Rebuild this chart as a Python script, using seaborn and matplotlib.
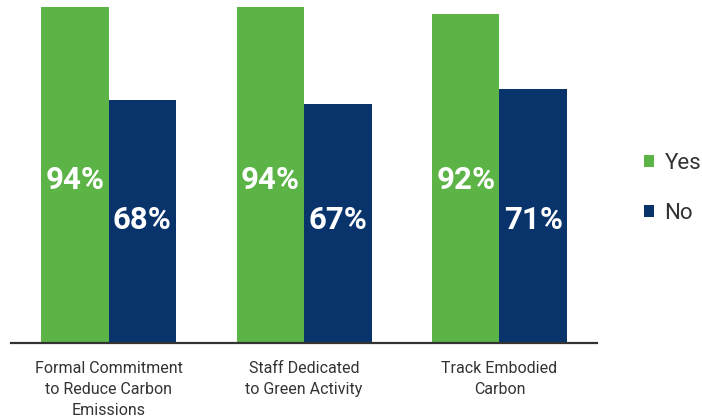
import seaborn as sns
import pandas as pd
import matplotlib.pyplot as plt
import matplotlib

matplotlib.use("agg")

categories = [
    "Formal Commitment\nto Reduce Carbon\nEmissions",
    "Staff Dedicated\nto Green Activity",
    "Track Embodied\nCarbon",
]
yes_values = [94, 94, 92]
no_values = [68, 67, 71]
series = ["Yes", "No"]
colors = {"Yes": "#5cb447", "No": "#08336b"}

df = pd.DataFrame(
    {
        "category": categories * 2,
        "answer": ["Yes"] * 3 + ["No"] * 3,
        "value": yes_values + no_values,
    }
)

sns.set_style("white")
plt.rcParams["font.family"] = ["Roboto", "DejaVu Sans"]

fig = plt.figure(figsize=(7.02, 4.2), dpi=100)
ax = fig.add_axes([0.0157, 0.1833, 0.835, 0.8167])

sns.barplot(
    data=df, x="category", y="value", hue="answer", hue_order=series,
    palette=colors, width=0.69, gap=0, saturation=1, linewidth=0,
    edgecolor="none", ax=ax, legend=True,
)

# value labels inside the bars
label_y = {"Yes": 45.5, "No": 34.5}
for container, name in zip(ax.containers, series):
    for bar in container:
        v = bar.get_height()
        ax.text(
            bar.get_x() + bar.get_width() / 2, label_y[name], f"{v:.0f}%",
            ha="center", va="center", color="white", fontsize=22.5,
            fontweight="bold",
        )

ax.set_xlim(-0.5, 2.5)
ax.set_ylim(0, 96)
ax.set_xlabel("")
ax.set_ylabel("")
ax.set_yticks([])
for s in ["top", "right", "left"]:
    ax.spines[s].set_visible(False)
ax.spines["bottom"].set_color("#333333")
ax.spines["bottom"].set_linewidth(1.6)
ax.tick_params(axis="x", length=0, pad=13, labelsize=11.5, colors="#333333")
for lbl in ax.get_xticklabels():
    lbl.set_linespacing(1.5)
    lbl.set_verticalalignment("top")

handles, labels = ax.get_legend_handles_labels()
ax.legend(
    handles, labels, loc="center left", bbox_to_anchor=(0.918, 0.552),
    bbox_transform=fig.transFigure, frameon=False, fontsize=16,
    handlelength=0.45, handleheight=0.45, handletextpad=0.45,
    labelspacing=1.3, borderpad=0, borderaxespad=0, labelcolor="#333333",
)

plt.savefig("out.png", dpi=100)
